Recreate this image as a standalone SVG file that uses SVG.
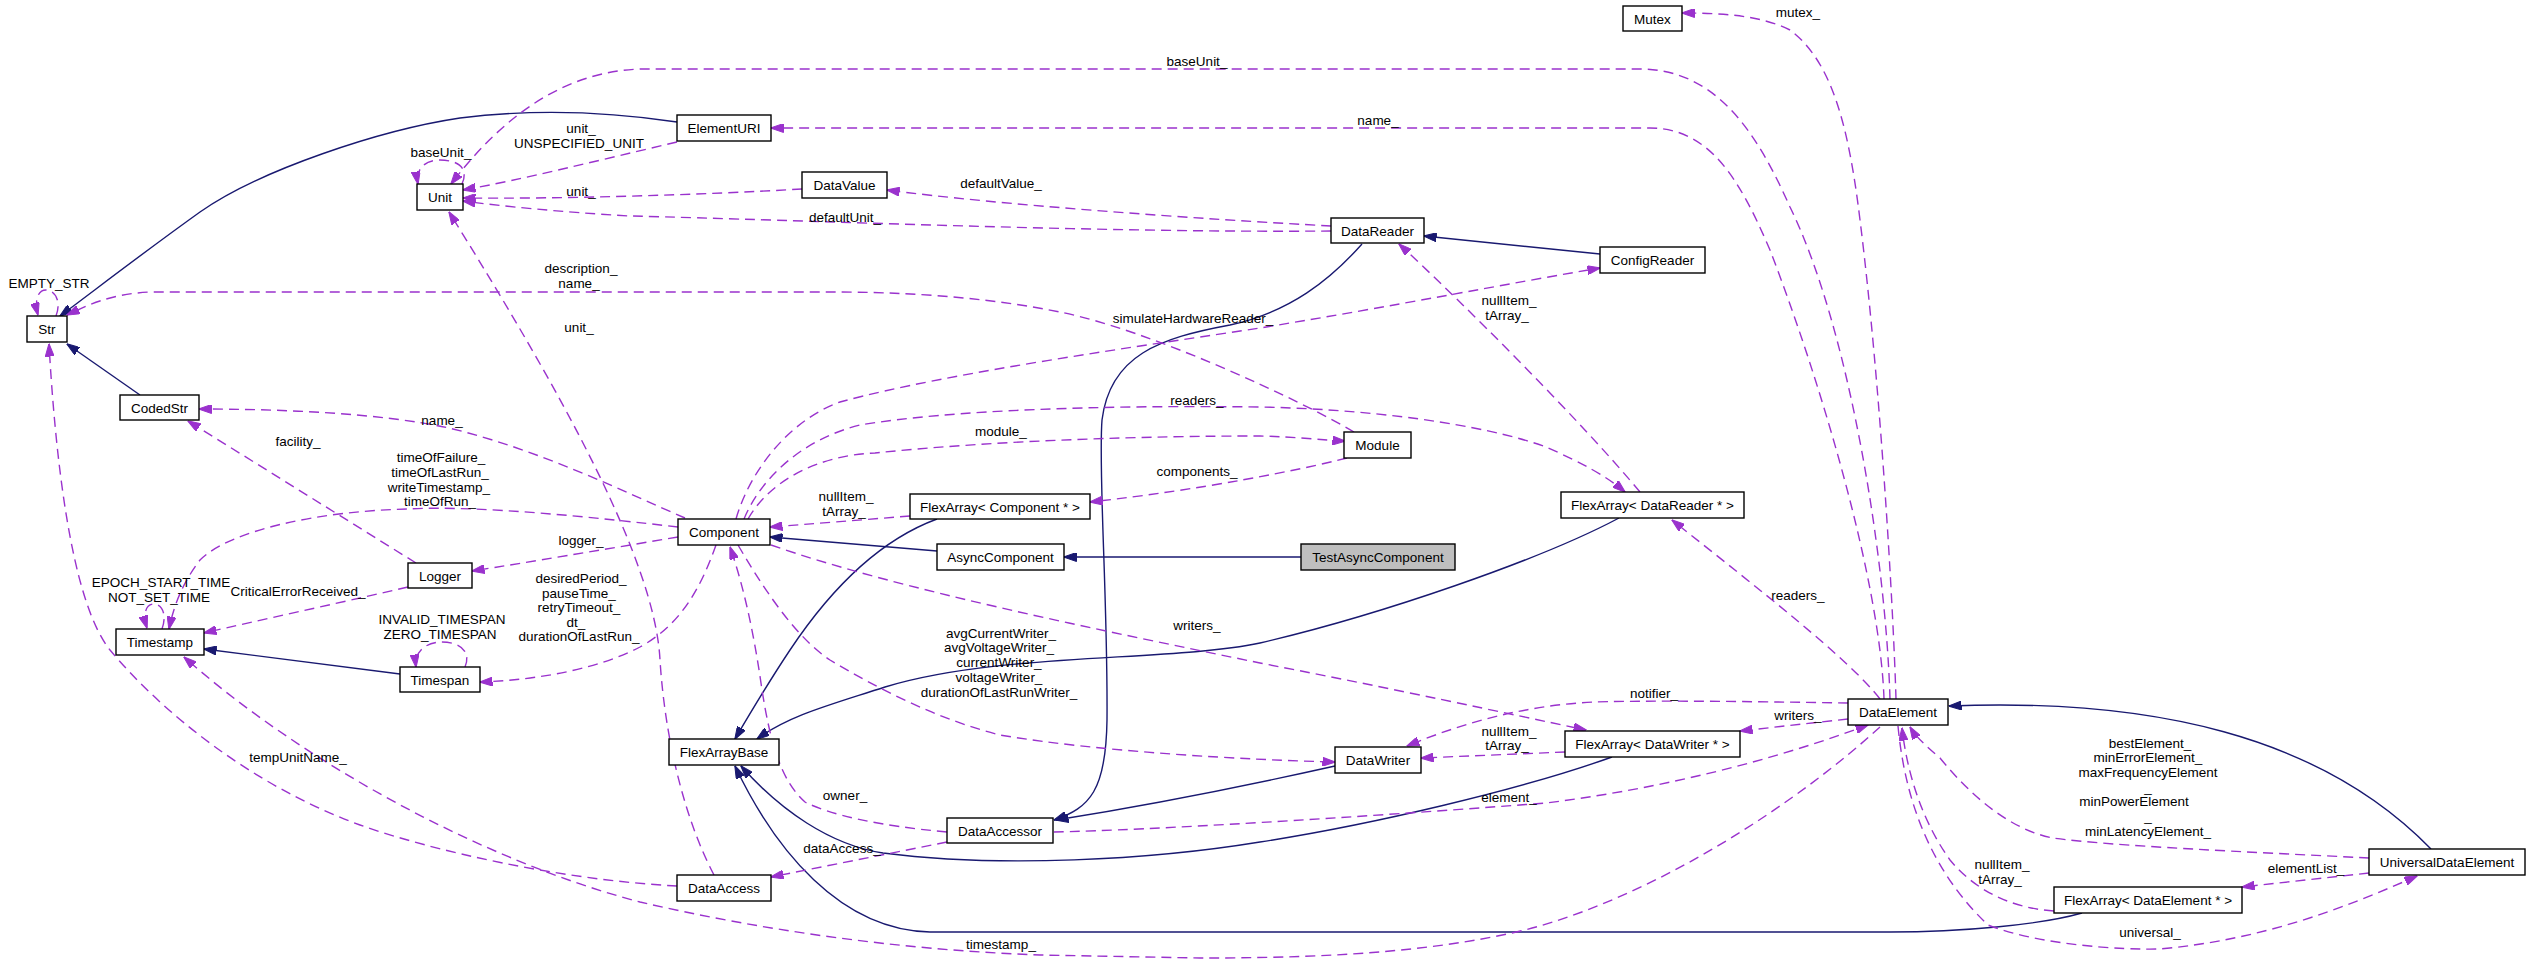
<svg xmlns="http://www.w3.org/2000/svg" width="2531" height="965" viewBox="0 0 2531 965">
<style>
text{font-family:"Liberation Sans",Arial,sans-serif;font-size:13.5px;fill:#000;text-anchor:middle}
.box{fill:#fff;stroke:#000;stroke-width:1.4}
.cur{fill:#bfbfbf;stroke:#000;stroke-width:1.4}
.inh{fill:none;stroke:#191970;stroke-width:1.4;marker-end:url(#an)}
.use{fill:none;stroke:#9a32cd;stroke-width:1.4;stroke-dasharray:10,6;marker-end:url(#ap)}
</style>
<defs>
<marker id="an" viewBox="0 0 13 9" refX="12.5" refY="4.5" markerWidth="13" markerHeight="9" markerUnits="userSpaceOnUse" orient="auto"><path d="M0,0 L13,4.5 L0,9 z" fill="#191970" stroke="#191970"/></marker>
<marker id="ap" viewBox="0 0 13 9" refX="12.5" refY="4.5" markerWidth="13" markerHeight="9" markerUnits="userSpaceOnUse" orient="auto"><path d="M0,0 L13,4.5 L0,9 z" fill="#9a32cd" stroke="#9a32cd"/></marker>
</defs>
<rect width="2531" height="965" fill="#fff"/>
<g id="connectors">
<path class="inh" d="M677,122 C610,112 540,108 460,118 C380,130 260,170 200,212 C140,255 95,290 60,316"/>
<path class="inh" d="M140,395 L67,344"/>
<path class="inh" d="M400,674 L204,649"/>
<path class="inh" d="M937,551 L770,537"/>
<path class="inh" d="M1301,557 L1064,557"/>
<path class="inh" d="M937,519 C880,540 830,590 790,650 C770,680 752,710 735,739"/>
<path class="inh" d="M1619,518 C1540,560 1380,615 1260,643 C1170,662 1000,652 885,687 C830,705 790,715 757,739"/>
<path class="inh" d="M1612,757 C1520,790 1370,825 1260,842 C1150,860 1000,868 883,853 C830,845 780,810 741,766"/>
<path class="inh" d="M2082,913 C2040,925 1960,932 1890,932 L930,932 C840,930 775,850 735,766"/>
<path class="inh" d="M1362,244 C1330,280 1290,312 1230,325 C1160,338 1110,355 1102,420 C1098,470 1108,600 1107,720 C1106,790 1090,808 1054,820"/>
<path class="inh" d="M1335,766 C1250,785 1150,805 1056,820"/>
<path class="inh" d="M1600,254 L1424,236"/>
<path class="inh" d="M2431,849 C2320,735 2150,698 1949,706"/>

<path class="use" d="M56,316 C62,300 54,290 46,290 C38,290 34,300 38,315"/>
<path class="use" d="M462,184 C470,166 455,160 440,160 C426,160 415,168 418,184"/>
<path class="use" d="M1890,699 C1886,560 1850,330 1790,207 C1760,140 1720,69 1640,69 L640,69 C560,72 500,120 451,184"/>
<path class="use" d="M1884,699 C1880,580 1820,380 1770,250 C1740,180 1710,128 1650,128 L771,128"/>
<path class="use" d="M1896,699 C1893,600 1880,380 1860,220 C1848,120 1830,60 1790,30 C1760,15 1720,13 1682,13"/>
<path class="use" d="M677,142 C600,160 520,180 463,190"/>
<path class="use" d="M802,189 C700,195 560,199 463,198"/>
<path class="use" d="M1331,231 C1100,233 800,220 630,216 C560,212 500,206 463,201"/>
<path class="use" d="M1331,226 C1200,219 1000,205 887,190"/>
<path class="use" d="M1354,432 C1300,400 1150,330 1060,312 C980,296 900,292 830,292 L150,292 C110,294 88,305 67,315"/>
<path class="use" d="M714,875 C685,820 665,740 660,660 C655,560 560,390 449,212"/>
<path class="use" d="M685,518 C620,490 540,450 449,428 C380,413 280,409 199,409"/>
<path class="use" d="M416,563 L188,421"/>
<path class="use" d="M678,527 C600,518 480,505 408,509 C320,511 230,530 200,560 C185,580 175,600 169,629"/>
<path class="use" d="M162,629 C168,612 160,604 154,604 C147,604 142,612 147,628"/>
<path class="use" d="M678,537 C600,550 530,562 472,571"/>
<path class="use" d="M408,587 C330,605 260,620 204,633"/>
<path class="use" d="M716,545 C700,590 680,625 640,647 C600,668 540,680 480,682"/>
<path class="use" d="M465,667 C472,650 458,642 442,642 C428,642 414,650 416,667"/>
<path class="use" d="M1880,727 C1800,800 1660,895 1525,930 C1420,955 1300,958 1200,958 L1040,955 C900,950 760,930 640,902 C480,860 300,760 184,657"/>
<path class="use" d="M677,886 C560,880 430,850 360,825 C250,785 160,710 110,650 C70,600 55,450 49,344"/>
<path class="use" d="M947,842 L771,877"/>
<path class="use" d="M947,832 C880,826 830,815 805,802 C780,780 770,740 762,690 C755,640 745,590 730,547"/>
<path class="use" d="M738,545 C770,600 800,640 830,660 C880,690 940,720 1000,735 C1100,752 1250,760 1335,762"/>
<path class="use" d="M771,545 C900,590 1100,630 1260,663 C1400,690 1500,712 1586,730"/>
<path class="use" d="M736,519 C750,470 790,420 840,402 C950,372 1150,345 1260,328 C1400,305 1500,285 1600,268"/>
<path class="use" d="M744,519 C760,480 800,440 860,425 C950,410 1100,405 1260,407 C1400,410 1500,430 1546,447 C1580,462 1605,475 1625,492"/>
<path class="use" d="M748,519 C770,480 820,455 875,453 C1000,440 1150,436 1260,436 C1300,437 1320,440 1345,441"/>
<path class="use" d="M1347,458 C1300,470 1200,490 1090,502"/>
<path class="use" d="M910,516 C860,520 810,524 770,527"/>
<path class="use" d="M1640,492 C1580,420 1460,300 1399,244"/>
<path class="use" d="M1565,752 L1421,758"/>
<path class="use" d="M1848,703 C1780,702 1660,700 1595,702 C1530,705 1470,720 1407,746"/>
<path class="use" d="M1848,719 L1740,731"/>
<path class="use" d="M1054,832 C1150,830 1350,818 1546,803 C1650,790 1760,765 1868,725"/>
<path class="use" d="M2369,858 C2250,852 2110,846 2053,838 C2010,830 1970,795 1940,758 C1925,745 1916,737 1910,727"/>
<path class="use" d="M2369,873 L2242,887"/>
<path class="use" d="M2054,911 C2010,908 1975,890 1950,860 C1925,825 1908,780 1902,728"/>
<path class="use" d="M1898,726 C1905,800 1930,870 1988,925 C2040,945 2120,950 2160,949 C2260,940 2340,910 2417,876"/>
<path class="use" d="M1880,699 C1850,660 1760,590 1672,520"/>
</g>
<g id="edge-labels">
<text x="49" y="288">EMPTY_STR</text>
<text x="441" y="157">baseUnit_</text>
<text x="581" y="133">unit_</text>
<text x="579" y="148">UNSPECIFIED_UNIT</text>
<text x="581" y="196">unit_</text>
<text x="581" y="273">description_</text>
<text x="579" y="288">name_</text>
<text x="579" y="332">unit_</text>
<text x="1197" y="66">baseUnit_</text>
<text x="1001" y="188">defaultValue_</text>
<text x="845" y="222">defaultUnit_</text>
<text x="1193" y="323">simulateHardwareReader_</text>
<text x="1798" y="17">mutex_</text>
<text x="1378" y="125">name_</text>
<text x="1509" y="305">nullItem_</text>
<text x="1507" y="320">tArray_</text>
<text x="442" y="425">name_</text>
<text x="298" y="446">facility_</text>
<text x="441" y="462">timeOfFailure_</text>
<text x="440" y="477">timeOfLastRun_</text>
<text x="439" y="492">writeTimestamp_</text>
<text x="440" y="506">timeOfRun_</text>
<text x="581" y="545">logger_</text>
<text x="161" y="587">EPOCH_START_TIME</text>
<text x="159" y="602">NOT_SET_TIME</text>
<text x="298" y="596">CriticalErrorReceived_</text>
<text x="581" y="583">desiredPeriod_</text>
<text x="579" y="598">pauseTime_</text>
<text x="579" y="612">retryTimeout_</text>
<text x="576" y="627">dt_</text>
<text x="579" y="641">durationOfLastRun_</text>
<text x="442" y="624">INVALID_TIMESPAN</text>
<text x="440" y="639">ZERO_TIMESPAN</text>
<text x="298" y="762">tempUnitName_</text>
<text x="1197" y="405">readers_</text>
<text x="1001" y="436">module_</text>
<text x="1197" y="476">components_</text>
<text x="846" y="501">nullItem_</text>
<text x="844" y="516">tArray_</text>
<text x="1197" y="630">writers_</text>
<text x="1001" y="638">avgCurrentWriter_</text>
<text x="999" y="652">avgVoltageWriter_</text>
<text x="999" y="667">currentWriter_</text>
<text x="999" y="682">voltageWriter_</text>
<text x="999" y="697">durationOfLastRunWriter_</text>
<text x="845" y="800">owner_</text>
<text x="842" y="853">dataAccess_</text>
<text x="1001" y="949">timestamp_</text>
<text x="1798" y="600">readers_</text>
<text x="1654" y="698">notifier_</text>
<text x="1798" y="720">writers_</text>
<text x="1509" y="736">nullItem_</text>
<text x="1507" y="750">tArray_</text>
<text x="1509" y="802">element_</text>
<text x="2150" y="748">bestElement_</text>
<text x="2148" y="762">minErrorElement_</text>
<text x="2148" y="777">maxFrequencyElement</text>
<text x="2148" y="792">_</text>
<text x="2134" y="806">minPowerElement</text>
<text x="2148" y="821">_</text>
<text x="2148" y="836">minLatencyElement_</text>
<text x="2306" y="873">elementList_</text>
<text x="2002" y="869">nullItem_</text>
<text x="2000" y="884">tArray_</text>
<text x="2150" y="937">universal_</text>
</g>
<g id="node-Str"><rect class="box" x="27" y="316" width="40" height="26"/><text x="47" y="334">Str</text></g>
<g id="node-Unit"><rect class="box" x="417" y="184" width="46" height="26"/><text x="440" y="202">Unit</text></g>
<g id="node-CodedStr"><rect class="box" x="120" y="395" width="79" height="25"/><text x="159.5" y="412.5">CodedStr</text></g>
<g id="node-Logger"><rect class="box" x="408" y="563" width="64" height="25"/><text x="440" y="580.5">Logger</text></g>
<g id="node-Timestamp"><rect class="box" x="116" y="629" width="88" height="26"/><text x="160" y="647">Timestamp</text></g>
<g id="node-Timespan"><rect class="box" x="400" y="667" width="80" height="25"/><text x="440" y="684.5">Timespan</text></g>
<g id="node-ElementURI"><rect class="box" x="677" y="115" width="94" height="26"/><text x="724" y="133">ElementURI</text></g>
<g id="node-DataValue"><rect class="box" x="802" y="172" width="85" height="26"/><text x="844.5" y="190">DataValue</text></g>
<g id="node-Component"><rect class="box" x="678" y="519" width="92" height="26"/><text x="724" y="537">Component</text></g>
<g id="node-FlexArrayComponent"><rect class="box" x="910" y="494" width="180" height="25"/><text x="1000" y="511.5">FlexArray&lt; Component * &gt;</text></g>
<g id="node-AsyncComponent"><rect class="box" x="937" y="544" width="127" height="26"/><text x="1000.5" y="562">AsyncComponent</text></g>
<g id="node-FlexArrayBase"><rect class="box" x="669" y="739" width="110" height="26"/><text x="724" y="757">FlexArrayBase</text></g>
<g id="node-DataAccessor"><rect class="box" x="947" y="818" width="106" height="25"/><text x="1000" y="835.5">DataAccessor</text></g>
<g id="node-DataAccess"><rect class="box" x="677" y="875" width="94" height="26"/><text x="724" y="893">DataAccess</text></g>
<g id="node-Mutex"><rect class="box" x="1623" y="6" width="59" height="25"/><text x="1652.5" y="23.5">Mutex</text></g>
<g id="node-DataReader"><rect class="box" x="1331" y="218" width="93" height="25"/><text x="1377.5" y="235.5">DataReader</text></g>
<g id="node-ConfigReader"><rect class="box" x="1600" y="247" width="105" height="26"/><text x="1652.5" y="265">ConfigReader</text></g>
<g id="node-Module"><rect class="box" x="1344" y="432" width="67" height="26"/><text x="1377.5" y="450">Module</text></g>
<g id="node-FlexArrayDataReader"><rect class="box" x="1561" y="492" width="183" height="26"/><text x="1652.5" y="510">FlexArray&lt; DataReader * &gt;</text></g>
<g id="node-TestAsyncComponent"><rect class="cur" x="1301" y="544" width="154" height="26"/><text x="1378" y="562">TestAsyncComponent</text></g>
<g id="node-DataWriter"><rect class="box" x="1335" y="747" width="86" height="26"/><text x="1378" y="765">DataWriter</text></g>
<g id="node-FlexArrayDataWriter"><rect class="box" x="1565" y="731" width="175" height="26"/><text x="1652.5" y="749">FlexArray&lt; DataWriter * &gt;</text></g>
<g id="node-DataElement"><rect class="box" x="1848" y="699" width="100" height="26"/><text x="1898" y="717">DataElement</text></g>
<g id="node-UniversalDataElement"><rect class="box" x="2369" y="849" width="156" height="26"/><text x="2447" y="867">UniversalDataElement</text></g>
<g id="node-FlexArrayDataElement"><rect class="box" x="2054" y="887" width="188" height="26"/><text x="2148" y="905">FlexArray&lt; DataElement * &gt;</text></g>
</svg>
